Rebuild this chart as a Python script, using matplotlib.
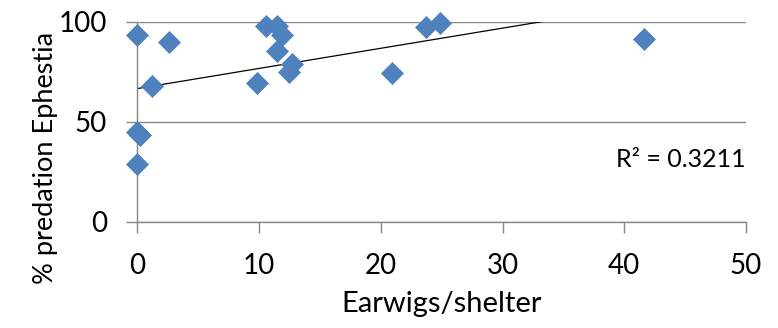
import numpy as np
import matplotlib
matplotlib.use("Agg")
import matplotlib.pyplot as plt

plt.rcParams['font.family'] = ['Lato', 'DejaVu Sans']

# earwig counts per shelter and % Ephestia eggs eaten
earwigs = [0, 2.6, 1.2, 0, 0.2, 0, 9.8, 10.6, 11.5, 11.9, 11.5, 12.7, 12.5, 20.9, 23.7, 24.9, 41.6]
predation = [93.4, 90, 67.9, 45, 43.4, 28.8, 69.5, 97.9, 97.9, 93.4, 85.5, 78.9, 75, 74.2, 97.5, 99.5, 91.4]
r2_label = "R² = 0.3211"
xticks = [0, 10, 20, 30, 40, 50]
yticks = [0, 50, 100]

grey = "#868686"

fig = plt.figure(figsize=(7.78, 3.28), dpi=100)
ax = fig.add_axes([0.1765, 0.3232, 0.7824, 0.6106])

# linear trendline
slope, icept = np.polyfit(earwigs, predation, 1)
xs = np.array([0, max(earwigs)])
ax.plot(xs, icept + slope * xs, color="black", lw=0.9, zorder=2)

ax.plot(earwigs, predation, ls="none", marker="D", ms=11,
        color="#4F81BD", mec="#4A7EBB", mew=0.5, zorder=3, clip_on=False)

ax.set_xlim(0, 50)
ax.set_ylim(0, 100)
ax.set_xticks(xticks)
ax.set_yticks(yticks)
ax.yaxis.grid(True, color=grey, lw=1)
ax.set_axisbelow(True)

for s in ["top", "right"]:
    ax.spines[s].set_visible(False)
for s in ["left", "bottom"]:
    ax.spines[s].set_color(grey)
    ax.spines[s].set_linewidth(1)

ax.tick_params(axis="both", direction="out", length=8, width=1, color=grey,
               labelsize=20)
ax.tick_params(axis="y", pad=14)
ax.tick_params(axis="x", pad=14)

ax.set_xlabel("Earwigs/shelter", fontsize=21, labelpad=9)
ax.set_ylabel("% predation Ephestia", fontsize=19.5, labelpad=5)
ax.yaxis.set_label_coords(-0.13, 0.32)

ax.text(1.0, 0.31, r2_label, transform=ax.transAxes, ha="right", va="center",
        fontsize=18)

fig.savefig("out.png", dpi=100)
